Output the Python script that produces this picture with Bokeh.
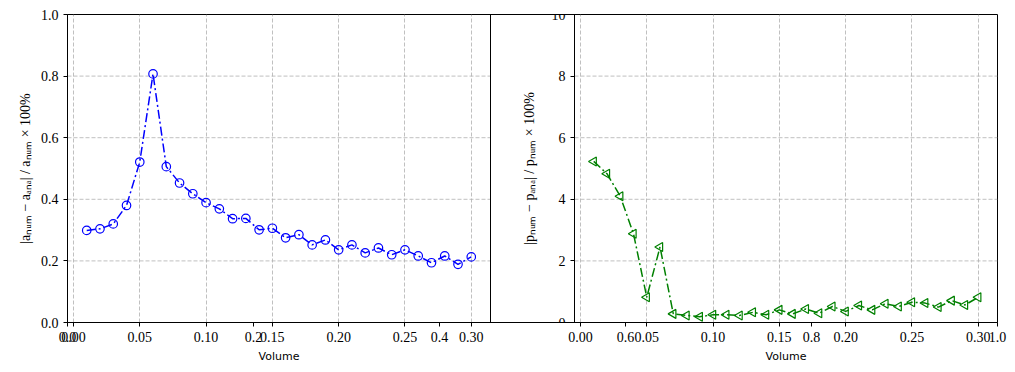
import math
from bokeh.plotting import figure
from bokeh.models import (Range1d, LinearAxis, FixedTicker, PrintfTickFormatter, Grid, Span,
                          Label, CustomJSTickFormatter)
from bokeh.embed import file_html
from bokeh.resources import INLINE

# ---------------- data ----------------
volume = [0.01, 0.02, 0.03, 0.04, 0.05, 0.06, 0.07, 0.08, 0.09, 0.10,
          0.11, 0.12, 0.13, 0.14, 0.15, 0.16, 0.17, 0.18, 0.19, 0.20,
          0.21, 0.22, 0.23, 0.24, 0.25, 0.26, 0.27, 0.28, 0.29, 0.30]
err_a = [0.299, 0.304, 0.320, 0.380, 0.521, 0.807, 0.506, 0.453, 0.418, 0.389,
         0.369, 0.337, 0.338, 0.301, 0.306, 0.275, 0.285, 0.252, 0.268, 0.236,
         0.252, 0.226, 0.242, 0.220, 0.236, 0.216, 0.194, 0.216, 0.189, 0.213]
err_p = [5.23, 4.83, 4.10, 2.88, 0.82, 2.45, 0.28, 0.23, 0.19, 0.25,
         0.25, 0.23, 0.33, 0.25, 0.41, 0.28, 0.44, 0.30, 0.52, 0.36,
         0.55, 0.41, 0.61, 0.52, 0.66, 0.63, 0.50, 0.71, 0.57, 0.82]

bg_ticks = [0.0, 0.2, 0.4, 0.6, 0.8, 1.0]
vol_ticks = [0.00, 0.05, 0.10, 0.15, 0.20, 0.25, 0.30]
a_ticks = [0.0, 0.2, 0.4, 0.6, 0.8, 1.0]
p_ticks = [0, 2, 4, 6, 8, 10]
a_ylim = (0, 1)
p_ylim = (0, 10)

a_label = "|aₙᵤₘ − aₐₙₐ| / aₙᵤₘ × 100%"
p_label = "|pₙᵤₘ − pₐₙₐ| / pₙᵤₘ × 100%"
x_label = "Volume"

# ---------------- layout (pixels) ----------------
FRAME_W, FRAME_H = 930, 308
PANEL_W = 423
RIGHT_OFF = 507
B_LEFT, B_RIGHT, B_TOP, B_BOTTOM = 67, 18, 14, 50
XLABEL_DROP = 34  # px below frame bottom

pad = 0.05 * (max(volume) - min(volume))
xlo, xhi = min(volume) - pad, max(volume) + pad
per_px = (xhi - xlo) / PANEL_W

SERIF = "Liberation Serif"
GRID_COLOR = "#b0b0b0"
GRID_DASH = "4 2"

p = figure(width=B_LEFT + FRAME_W + B_RIGHT, height=B_TOP + FRAME_H + B_BOTTOM,
           x_range=Range1d(0, 1), y_range=Range1d(0, 1),
           output_backend="svg", toolbar_location=None,
           min_border_left=B_LEFT, min_border_right=B_RIGHT,
           min_border_top=B_TOP, min_border_bottom=B_BOTTOM)
lxr = Range1d(xlo, xlo + per_px * FRAME_W)
rxr = Range1d(xlo - per_px * RIGHT_OFF, xhi)
p.extra_x_ranges = {"lx": lxr, "rx": rxr}
p.extra_y_ranges = {"ly": Range1d(*a_ylim), "ry": Range1d(*p_ylim)}

p.background_fill_color = "white"
p.border_fill_color = "white"
p.outline_line_color = "black"
p.outline_line_width = 1
p.xgrid.visible = False
p.ygrid.visible = False


def style_axis(ax):
    ax.major_tick_in = 0
    ax.major_tick_out = 4
    ax.minor_tick_line_color = None
    ax.axis_line_color = "black"
    ax.major_tick_line_color = "black"
    ax.major_label_text_font = SERIF
    ax.major_label_text_font_size = "14px"
    ax.major_label_text_color = "black"
    ax.major_label_standoff = 5
    ax.axis_label_text_font_style = "normal"
    ax.axis_label_text_color = "black"
    ax.axis_label_text_font = SERIF
    ax.axis_label_text_font_size = "14px"


def to_bg(v, r):
    return (v - r.start) / (r.end - r.start)


# bottom: background ticks 0..1 plus both panels' Volume ticks on the shared bottom line
tick_pos, tick_lab = [], []
for t in bg_ticks:
    tick_pos.append(t); tick_lab.append("%.1f" % t)
for t in vol_ticks:
    tick_pos.append(to_bg(t, lxr)); tick_lab.append("%.2f" % t)
for t in vol_ticks:
    tick_pos.append(to_bg(t, rxr)); tick_lab.append("%.2f" % t)

bx = p.xaxis[0]
bx.ticker = FixedTicker(ticks=tick_pos)
bx.formatter = CustomJSTickFormatter(args=dict(pos=tick_pos, labels=tick_lab), code="""
let best = 0; let bd = Infinity;
for (let i = 0; i < pos.length; i++) {
  const d = Math.abs(pos[i] - tick);
  if (d < bd) { bd = d; best = i; }
}
return labels[best];
""")
style_axis(bx)

# left: background ticks coincide with the left panel's 0..1 axis
by = p.yaxis[0]
by.ticker = FixedTicker(ticks=a_ticks)
by.formatter = PrintfTickFormatter(format="%.1f")
style_axis(by)
by.axis_label = a_label
by.axis_label_standoff = 5

# right panel y axis (at the panel's left edge)
rya = LinearAxis(x_range_name="rx", y_range_name="ry", fixed_location=xlo,
                 ticker=FixedTicker(ticks=p_ticks), formatter=PrintfTickFormatter(format="%d"),
                 axis_label=p_label)
style_axis(rya)
rya.axis_label_standoff = 12
p.add_layout(rya, "left")

# x labels under each panel (placed in side panels so they are not clipped to the frame)
for cx, side in ((PANEL_W / 2, "below"), (RIGHT_OFF + PANEL_W / 2, "above")):
    p.add_layout(Label(x=cx / FRAME_W, y=-XLABEL_DROP / FRAME_H, text=x_label,
                       text_align="center", text_baseline="middle",
                       text_font="DejaVu Sans", text_font_size="11px", text_color="black"),
                 side)

# right spine of the left panel
p.add_layout(Span(location=to_bg(xhi, lxr), dimension="height",
                  line_color="black", line_width=1))

# grids: vertical via Grid, horizontal as segments limited to each panel
p.add_layout(Grid(dimension=0, ticker=FixedTicker(ticks=vol_ticks), x_range_name="lx",
                  y_range_name="ly", grid_line_color=GRID_COLOR, grid_line_dash=GRID_DASH,
                  grid_line_width=0.8))
p.add_layout(Grid(dimension=0, ticker=FixedTicker(ticks=vol_ticks), x_range_name="rx",
                  y_range_name="ry", grid_line_color=GRID_COLOR, grid_line_dash=GRID_DASH,
                  grid_line_width=0.8))
ha = a_ticks[1:-1]
p.segment(x0=[xlo] * len(ha), x1=[xhi] * len(ha), y0=ha, y1=ha,
          x_range_name="lx", y_range_name="ly", line_color=GRID_COLOR,
          line_dash=GRID_DASH, line_width=0.8, level="underlay")
hp = p_ticks[1:-1]
p.segment(x0=[xlo] * len(hp), x1=[xhi] * len(hp), y0=hp, y1=hp,
          x_range_name="rx", y_range_name="ry", line_color=GRID_COLOR,
          line_dash=GRID_DASH, line_width=0.8, level="underlay")

# data
p.line(volume, err_a, x_range_name="lx", y_range_name="ly", line_color="blue",
       line_width=1.5, line_dash="9 3 2 3")
p.scatter(volume, err_a, x_range_name="lx", y_range_name="ly", marker="circle", size=8.5,
          fill_color=None, line_color="blue", line_width=1.2)

p.line(volume, err_p, x_range_name="rx", y_range_name="ry", line_color="green",
       line_width=1.5, line_dash="9 3 2 3")
p.scatter(volume, err_p, x_range_name="rx", y_range_name="ry", marker="triangle",
          angle=math.pi / 2, size=9, fill_color=None, line_color="green", line_width=1.2)

open("out.html", "w").write(file_html(p, INLINE))
